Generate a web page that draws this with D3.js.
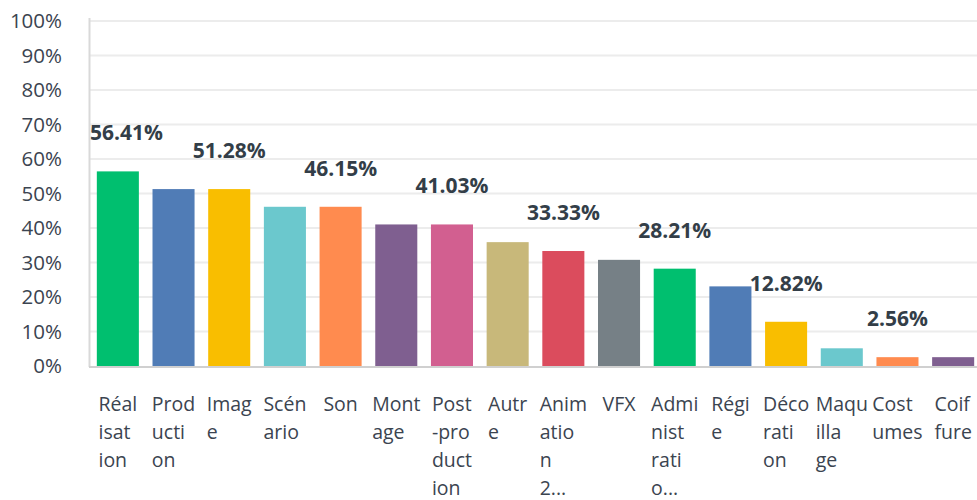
<!DOCTYPE html>
<html><head><meta charset="utf-8">
<script src="https://cdn.jsdelivr.net/npm/d3@7"></script>
<style>body{margin:0;background:#fff}svg{display:block}</style>
</head><body>
<svg id="c" width="977" height="500"></svg>
<script>
const categories = ["Réalisation","Production","Image","Scénario","Son","Montage","Post-production","Autre","Animation 2D/3D","VFX","Administration de production","Régie","Décoration","Maquillage","Costumes","Coiffure"];
const values = [56.41,51.28,51.28,46.15,46.15,41.03,41.03,35.90,33.33,30.77,28.21,23.08,12.82,5.13,2.56,2.56];
const colors = ["#00bf6f","#507cb6","#f9be00","#6bc8cd","#ff8b4f","#7f5f90","#d25f90","#c8b87a","#db4c5d","#768086","#00bf6f","#507cb6","#f9be00","#6bc8cd","#ff8b4f","#7f5f90"];
const yTicks = [0,10,20,30,40,50,60,70,80,90,100];
const labelEvery = 2;

const svg = d3.select("#c");
const font = "'Open Sans', sans-serif";
const textColor = "#3b4450";

const x = d3.scaleBand().domain(categories).range([90, 981]).paddingInner(0.245).paddingOuter(0.1225);
const y = d3.scaleLinear().domain([0,100]).range([366, 21]);

// gridlines
svg.append("g").selectAll("line").data(yTicks.filter(d=>d>0)).join("line")
  .attr("x1", 90).attr("x2", 977).attr("y1", d=>y(d)).attr("y2", d=>y(d))
  .attr("stroke", "#ececec").attr("stroke-width", 2);

// y axis
const yAxis = d3.axisLeft(y).tickValues(yTicks).tickFormat(d=>d+"%").tickSize(0).tickPadding(28);
const ya = svg.append("g").attr("transform","translate(90,0)").call(yAxis);
ya.select(".domain").remove();
ya.selectAll("text").attr("font-family", font).attr("font-size", 20.5).attr("fill", textColor);

svg.append("line").attr("x1",89.5).attr("x2",89.5).attr("y1",y(100)-3).attr("y2",y(0)+1)
  .attr("stroke","#d9d9d9").attr("stroke-width",2);

// bars
svg.append("g").selectAll("rect").data(values).join("rect")
  .attr("x", (d,i)=>x(categories[i])).attr("width", x.bandwidth())
  .attr("y", d=>y(d)).attr("height", d=>y(0)-y(d))
  .attr("fill", (d,i)=>colors[i]);

svg.append("line").attr("x1",89).attr("x2",977).attr("y1",y(0)+1).attr("y2",y(0)+1)
  .attr("stroke","#d0d0d0").attr("stroke-width",2);

// data labels (every other bar)
svg.append("g").selectAll("text").data(values.map((v,i)=>({v,i})).filter(d=>d.i%labelEvery===0)).join("text")
  .attr("x", d=>x(categories[d.i])+x.bandwidth()/2)
  .attr("y", d=>y(d.v)-31)
  .attr("text-anchor","middle")
  .attr("font-family", font).attr("font-weight", 700).attr("font-size", 21)
  .attr("fill", "#333e48")
  .text(d=>d.v.toFixed(2)+"%")
  .each(function(){
    const bb = this.getBBox();
    if (bb.x < 90) d3.select(this).attr("x", +d3.select(this).attr("x") + (90-bb.x));
  });

// x labels wrapped into 4-char chunks, max 4 lines
function wrap(name){
  const lines = [];
  name.split(" ").forEach(w=>{ for(let k=0;k<w.length;k+=4) lines.push(w.slice(k,k+4)); });
  if (lines.length>4){ const l = lines.slice(0,4); l[3] = l[3][0] + "..."; return l; }
  return lines;
}
const xl = svg.append("g");
categories.forEach((c,i)=>{
  const t = xl.append("text").attr("font-family", font).attr("font-size", 19.5).attr("fill", textColor);
  const lines = wrap(c);
  const spans = lines.map((l,j)=> t.append("tspan").attr("x", 0).attr("y", 411 + j*28).text(l));
  const w = d3.max(spans, s=>s.node().getComputedTextLength());
  const cx = x(c) + x.bandwidth()/2;
  spans.forEach(s=>s.attr("x", cx - w/2));
});
</script>
</body></html>
